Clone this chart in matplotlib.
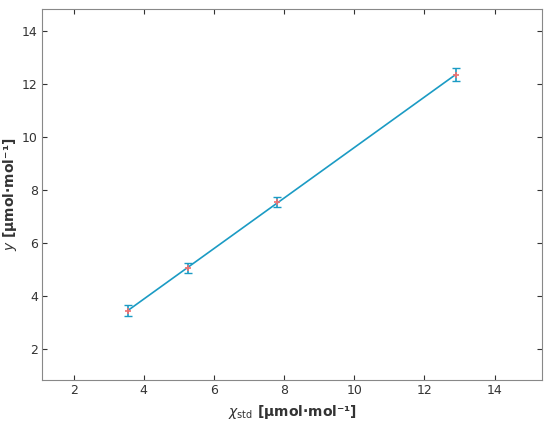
import numpy as np
import matplotlib
matplotlib.use("Agg")
import matplotlib.pyplot as plt

x_std = [3.55, 5.25, 7.8, 12.9]
y_meas = [3.45, 5.05, 7.55, 12.35]
y_err = [0.2, 0.2, 0.2, 0.25]
xticks = [2, 4, 6, 8, 10, 12, 14]
yticks = [2, 4, 6, 8, 10, 12, 14]

fig = plt.figure(figsize=(5.5, 4.29), dpi=100)
ax = fig.add_axes([42/550, 1-380/429, 500/550, 371/429])
c = np.polyfit(x_std, y_meas, 1)
xs = np.array([x_std[0], x_std[-1]])
ax.plot(xs, np.polyval(c, xs), color="#1b9bc4", lw=1.2, zorder=2)
ax.errorbar(x_std, y_meas, yerr=y_err, fmt="none", ecolor="#1b9bc4", elinewidth=1.2, capsize=3, zorder=3)
ax.plot(x_std, y_meas, "+", color="#f07070", ms=5, mew=1.2, zorder=4)
ax.set_xlim(1.1, 15.35)
ax.set_ylim(0.83, 14.83)
ax.set_xticks(xticks)
ax.set_yticks(yticks)
ax.tick_params(direction="in", labelsize=9, colors="#333333", top=True, right=True, pad=3)
for s in ax.spines.values():
    s.set_color("#888888")
ax.set_xlabel(r"$\chi_{\mathrm{std}}$ [µmol·mol⁻¹]", fontsize=10, fontweight="bold", color="#333333")
ax.set_ylabel(r"$\it{y}$ [µmol·mol⁻¹]", fontsize=10, fontweight="bold", color="#333333", labelpad=2)
fig.savefig("out.png", dpi=100)
